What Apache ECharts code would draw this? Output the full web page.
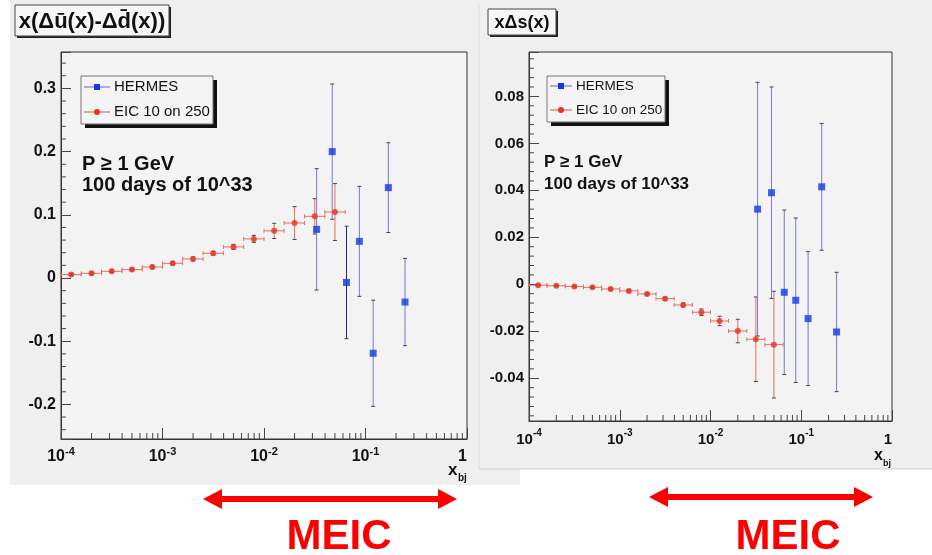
<!DOCTYPE html>
<html><head><meta charset="utf-8">
<script src="https://cdn.jsdelivr.net/npm/echarts@6/dist/echarts.min.js"></script>
<style>html,body{margin:0;padding:0;background:#fff}#c{width:932px;height:555px}</style>
</head><body><div id="c"></div>
<script>
// ---------- data ----------
const eicX = [1.26e-4, 2.0e-4, 3.16e-4, 5.0e-4, 7.94e-4, 1.26e-3, 2.0e-3, 3.16e-3, 5.0e-3, 7.94e-3, 1.26e-2, 2.0e-2, 3.16e-2, 5.0e-2];
const eicBinEdges = [1.0e-4, 1.58e-4, 2.51e-4, 3.98e-4, 6.31e-4, 1.0e-3, 1.58e-3, 2.51e-3, 3.98e-3, 6.31e-3, 1.0e-2, 1.58e-2, 2.51e-2, 3.98e-2, 6.31e-2];
const eicDiffY   = [0.0054, 0.0075, 0.0106, 0.0133, 0.0175, 0.0233, 0.0302, 0.0392, 0.0492, 0.0619, 0.0746, 0.087, 0.0976, 0.1044];
const eicDiffErr = [0.002, 0.002, 0.002, 0.002, 0.0025, 0.0025, 0.003, 0.003, 0.004, 0.0055, 0.012, 0.026, 0.028, 0.045];
const eicStrY    = [-0.0004, -0.0006, -0.0009, -0.0013, -0.0020, -0.0028, -0.0041, -0.0061, -0.0088, -0.0119, -0.0156, -0.0199, -0.0234, -0.0257];
const eicStrErr  = [0.0003, 0.0003, 0.0003, 0.0004, 0.0004, 0.0005, 0.0005, 0.0006, 0.0008, 0.0014, 0.002, 0.005, 0.018, 0.0227];
const hermesX      = [0.033, 0.047, 0.065, 0.087, 0.119, 0.168, 0.245];
const hermesDiffY  = [0.077, 0.200, -0.007, 0.058, -0.119, 0.143, -0.038];
const hermesDiffErr= [0.096, 0.107, 0.089, 0.087, 0.084, 0.071, 0.069];
const hermesStrY   = [0.032, 0.039, -0.0034, -0.0068, -0.0146, 0.0415, -0.0203];
const hermesStrErr = [0.054, 0.045, 0.035, 0.035, 0.0285, 0.027, 0.0254];
const seriesNames = ['HERMES', 'EIC 10 on 250'];
const leftTitle = 'x(\u0394\u016B(x)-\u0394d\u0304(x))';
const rightTitle = 'x\u0394s(x)';
const noteLines = ['P \u2265 1 GeV', '100 days of 10^33'];

// ---------- helpers ----------
const FF = '"Liberation Sans", Arial, Helvetica, sans-serif';
const RED = '#e8321f', RED_ERR = '#e3705f', BLUE = '#1238e6', BLUE_ERR = '#7878d4';

function errRows(xs, ys, es, edges) {
  return xs.map((x, i) => edges
    ? [x, ys[i], ys[i] - es[i], ys[i] + es[i], edges[i], edges[i + 1]]
    : [x, ys[i], ys[i] - es[i], ys[i] + es[i], x, x]);
}
function errRender(color, horiz, darkIdx) {
  return function (params, api) {
    const c = api.coord([api.value(0), api.value(1)]);
    const lo = api.coord([api.value(0), api.value(2)]);
    const hi = api.coord([api.value(0), api.value(3)]);
    const col = (darkIdx === params.dataIndex) ? '#23238c' : color;
    const st = { stroke: col, lineWidth: 1 };
    const cw = 2;
    const ch = [
      { type: 'line', shape: { x1: c[0], y1: lo[1], x2: c[0], y2: hi[1] }, style: st },
      { type: 'line', shape: { x1: c[0] - cw, y1: lo[1], x2: c[0] + cw, y2: lo[1] }, style: { stroke: '#444', lineWidth: 1 } },
      { type: 'line', shape: { x1: c[0] - cw, y1: hi[1], x2: c[0] + cw, y2: hi[1] }, style: { stroke: '#444', lineWidth: 1 } }
    ];
    if (horiz) {
      const l = api.coord([api.value(4), api.value(1)]);
      const r = api.coord([api.value(5), api.value(1)]);
      ch.push({ type: 'line', shape: { x1: l[0], y1: c[1], x2: r[0], y2: c[1] }, style: st });
      ch.push({ type: 'line', shape: { x1: l[0], y1: c[1] - 2, x2: l[0], y2: c[1] + 2 }, style: st });
      ch.push({ type: 'line', shape: { x1: r[0], y1: c[1] - 2, x2: r[0], y2: c[1] + 2 }, style: st });
    }
    return { type: 'group', children: ch };
  };
}
function minorTickRows(xMin, yMin, yStep, nFrom, nTo, perMajor) {
  const rows = [];
  for (let e = -4; e <= -1; e++) for (let k = 2; k <= 9; k++) rows.push([k * Math.pow(10, e), yMin, 0]);
  for (let n = nFrom; n <= nTo; n++) if (n % perMajor !== 0) rows.push([xMin, +(n * yStep).toFixed(6), 1]);
  return rows;
}
function minorTickRender(params, api) {
  const p = api.coord([api.value(0), api.value(1)]);
  if (api.value(2) === 0) return { type: 'line', shape: { x1: p[0], y1: p[1], x2: p[0], y2: p[1] - 6 }, style: { stroke: '#444', lineWidth: 1 } };
  return { type: 'line', shape: { x1: p[0], y1: p[1], x2: p[0] + 5, y2: p[1] }, style: { stroke: '#444', lineWidth: 1 } };
}
function xAxisCfg(gi, fs) {
  return {
    type: 'log', logBase: 10, gridIndex: gi, min: 1e-4, max: 1,
    axisLine: { show: true, onZero: false, lineStyle: { color: '#333' } },
    axisTick: { show: true, inside: true, length: 11, lineStyle: { color: '#444' } },
    splitLine: { show: false }, minorTick: { show: false },
    axisLabel: {
      margin: 7, alignMaxLabel: 'right',
      formatter: function (v) {
        if (Math.abs(v - 1) < 1e-9) return '{b|1}';
        return '{b|10}{e|' + Math.round(Math.log10(v)) + '}';
      },
      rich: {
        b: { fontSize: fs, fontWeight: 'bold', fontFamily: FF, color: '#111', lineHeight: 19, verticalAlign: 'bottom' },
        e: { fontSize: fs - 5, fontWeight: 'bold', fontFamily: FF, color: '#111', lineHeight: 10, verticalAlign: 'top' }
      }
    }
  };
}
function yAxisCfg(gi, min, max, split, step, dec, fs) {
  return {
    type: 'value', gridIndex: gi, min: min, max: max, splitNumber: split,
    axisLine: { show: true, onZero: false, lineStyle: { color: '#333' } },
    axisTick: { show: true, inside: true, length: 10, lineStyle: { color: '#444' } },
    splitLine: { show: false }, minorTick: { show: false },
    axisLabel: {
      margin: 5, fontSize: fs, fontWeight: 'bold', fontFamily: FF, color: '#111',
      formatter: function (v) {
        const q = v / step;
        if (Math.abs(q - Math.round(q)) > 1e-6) return '';
        if (Math.abs(v) < 1e-9) return '0';
        return (+v).toFixed(dec);
      }
    }
  };
}
function legendGroup(x, y, w, h, fs, lineX1, lineX2, textX, rowY) {
  return [
    { type: 'rect', shape: { x: x + 4, y: y + 4, width: w, height: h }, style: { fill: '#111' } },
    { type: 'rect', shape: { x: x, y: y, width: w, height: h }, style: { fill: '#f4f4f4', stroke: '#777', lineWidth: 1 } },
    { type: 'line', shape: { x1: lineX1, y1: rowY[0], x2: lineX2, y2: rowY[0] }, style: { stroke: '#5566dd', lineWidth: 1 } },
    { type: 'rect', shape: { x: (lineX1 + lineX2) / 2 - 3, y: rowY[0] - 3, width: 6, height: 6 }, style: { fill: BLUE } },
    { type: 'line', shape: { x1: lineX1, y1: rowY[1], x2: lineX2, y2: rowY[1] }, style: { stroke: '#e05040', lineWidth: 1 } },
    { type: 'circle', shape: { cx: (lineX1 + lineX2) / 2, cy: rowY[1], r: 3 }, style: { fill: RED } },
    { type: 'text', style: { x: textX, y: rowY[0], text: seriesNames[0], font: fs + 'px ' + FF, fill: '#111', textVerticalAlign: 'middle' } },
    { type: 'text', style: { x: textX, y: rowY[1], text: seriesNames[1], font: fs + 'px ' + FF, fill: '#111', textVerticalAlign: 'middle' } }
  ];
}
function titleBox(x, y, w, h, text, fs) {
  return [
    { type: 'rect', shape: { x: x + 2, y: y + 2, width: w, height: h }, style: { fill: '#222' } },
    { type: 'rect', shape: { x: x, y: y, width: w, height: h }, style: { fill: '#f6f6f6', stroke: '#444', lineWidth: 1 } },
    { type: 'text', style: { x: x + w / 2, y: y + h / 2 + 1, text: text, font: 'bold ' + fs + 'px ' + FF, fill: '#111', textAlign: 'center', textVerticalAlign: 'middle' } }
  ];
}
function arrow(x1, x2, y, label, lx, ly) {
  return [
    { type: 'rect', shape: { x: x1 + 18, y: y - 3, width: x2 - x1 - 36, height: 6 }, style: { fill: '#ff0000' } },
    { type: 'polygon', shape: { points: [[x1, y], [x1 + 19, y - 10], [x1 + 19, y + 10]] }, style: { fill: '#ff0000' } },
    { type: 'polygon', shape: { points: [[x2, y], [x2 - 19, y - 10], [x2 - 19, y + 10]] }, style: { fill: '#ff0000' } },
    { type: 'text', style: { x: lx, y: ly, text: label, font: 'bold 42px ' + FF, fill: '#ff0000', textAlign: 'center', textVerticalAlign: 'middle' } }
  ];
}

const graphics = [].concat(
  [
    { type: 'rect', shape: { x: 0, y: 0, width: 10, height: 485 }, style: { fill: '#ffffff' } },
    { type: 'rect', shape: { x: 0, y: 485, width: 932, height: 70 }, style: { fill: '#ffffff' } },
    { type: 'rect', shape: { x: 520, y: 469, width: 412, height: 16 }, style: { fill: '#ffffff' } },
    { type: 'line', shape: { x1: 479, y1: 3, x2: 479, y2: 469 }, style: { stroke: '#dcdcdc', lineWidth: 1 } },
    { type: 'line', shape: { x1: 479, y1: 469, x2: 932, y2: 469 }, style: { stroke: '#d0d0d0', lineWidth: 1 } }
  ],
  titleBox(15, 5, 154, 31, leftTitle, 22),
  titleBox(488, 9, 68, 26, rightTitle, 18),
  legendGroup(81, 76, 132, 48, 15, 84, 110, 114, [87, 112]),
  legendGroup(547, 76, 118, 46, 13.5, 550, 572, 576, [86, 110]),
  [
    { type: 'text', style: { x: 82, y: 164, text: noteLines[0], font: 'bold 20px ' + FF, fill: '#111', textVerticalAlign: 'middle' } },
    { type: 'text', style: { x: 82, y: 185, text: noteLines[1], font: 'bold 20px ' + FF, fill: '#111', textVerticalAlign: 'middle' } },
    { type: 'text', style: { x: 544, y: 162, text: noteLines[0], font: 'bold 17px ' + FF, fill: '#111', textVerticalAlign: 'middle' } },
    { type: 'text', style: { x: 544, y: 184, text: noteLines[1], font: 'bold 17px ' + FF, fill: '#111', textVerticalAlign: 'middle' } },
    { type: 'text', style: { x: 448, y: 470, text: 'x', font: 'bold 17px ' + FF, fill: '#111', textVerticalAlign: 'middle' } },
    { type: 'text', style: { x: 458, y: 478, text: 'bj', font: 'bold 10px ' + FF, fill: '#111', textVerticalAlign: 'middle' } },
    { type: 'text', style: { x: 874, y: 456, text: 'x', font: 'bold 16px ' + FF, fill: '#111', textVerticalAlign: 'middle' } },
    { type: 'text', style: { x: 883, y: 464, text: 'bj', font: 'bold 9px ' + FF, fill: '#111', textVerticalAlign: 'middle' } }
  ],
  arrow(203, 457, 499, 'MEIC', 339, 537),
  arrow(649, 873, 497, 'MEIC', 788, 537)
);

const chart = echarts.init(document.getElementById('c'), null, { renderer: 'canvas' });
chart.setOption({
  backgroundColor: '#efefef',
  animation: false,
  grid: [
    { left: 61, top: 52, width: 406, height: 387, show: true, backgroundColor: '#f3f3f3', borderColor: '#333', borderWidth: 1 },
    { left: 529, top: 52, width: 363, height: 369, show: true, backgroundColor: '#f3f3f3', borderColor: '#333', borderWidth: 1 }
  ],
  xAxis: [xAxisCfg(0, 16), xAxisCfg(1, 15)],
  yAxis: [yAxisCfg(0, -0.2547, 0.3576, 6, 0.1, 1, 16), yAxisCfg(1, -0.0582, 0.0989, 8, 0.02, 2, 15)],
  graphic: graphics,
  series: [
    { type: 'custom', name: 'ticksL', xAxisIndex: 0, yAxisIndex: 0, silent: true, data: minorTickRows(1e-4, -0.2547, 0.02, -12, 17, 5), renderItem: minorTickRender, encode: { x: 0, y: 1 }, z: 1 },
    { type: 'custom', name: 'ticksR', xAxisIndex: 1, yAxisIndex: 1, silent: true, data: minorTickRows(1e-4, -0.0582, 0.004, -14, 24, 5), renderItem: minorTickRender, encode: { x: 0, y: 1 }, z: 1 },
    { type: 'custom', name: seriesNames[1], xAxisIndex: 0, yAxisIndex: 0, data: errRows(eicX, eicDiffY, eicDiffErr, eicBinEdges), renderItem: errRender(RED_ERR, true), encode: { x: [0, 4, 5], y: [1, 2, 3] }, z: 3 },
    { type: 'custom', name: seriesNames[0], xAxisIndex: 0, yAxisIndex: 0, data: errRows(hermesX, hermesDiffY, hermesDiffErr), renderItem: errRender(BLUE_ERR, false, 2), encode: { x: 0, y: [1, 2, 3] }, z: 3 },
    { type: 'scatter', name: seriesNames[1], xAxisIndex: 0, yAxisIndex: 0, data: eicX.map((x, i) => [x, eicDiffY[i]]), symbol: 'circle', symbolSize: 6, itemStyle: { color: RED }, z: 5 },
    { type: 'scatter', name: seriesNames[0], xAxisIndex: 0, yAxisIndex: 0, data: hermesX.map((x, i) => [x, hermesDiffY[i]]), symbol: 'rect', symbolSize: 7, itemStyle: { color: BLUE }, z: 5 },
    { type: 'custom', name: seriesNames[1], xAxisIndex: 1, yAxisIndex: 1, data: errRows(eicX, eicStrY, eicStrErr, eicBinEdges), renderItem: errRender(RED_ERR, true), encode: { x: [0, 4, 5], y: [1, 2, 3] }, z: 3 },
    { type: 'custom', name: seriesNames[0], xAxisIndex: 1, yAxisIndex: 1, data: errRows(hermesX, hermesStrY, hermesStrErr), renderItem: errRender(BLUE_ERR, false), encode: { x: 0, y: [1, 2, 3] }, z: 3 },
    { type: 'scatter', name: seriesNames[1], xAxisIndex: 1, yAxisIndex: 1, data: eicX.map((x, i) => [x, eicStrY[i]]), symbol: 'circle', symbolSize: 6, itemStyle: { color: RED }, z: 5 },
    { type: 'scatter', name: seriesNames[0], xAxisIndex: 1, yAxisIndex: 1, data: hermesX.map((x, i) => [x, hermesStrY[i]]), symbol: 'rect', symbolSize: 7, itemStyle: { color: BLUE }, z: 5 }
  ]
});
</script>
</body></html>
